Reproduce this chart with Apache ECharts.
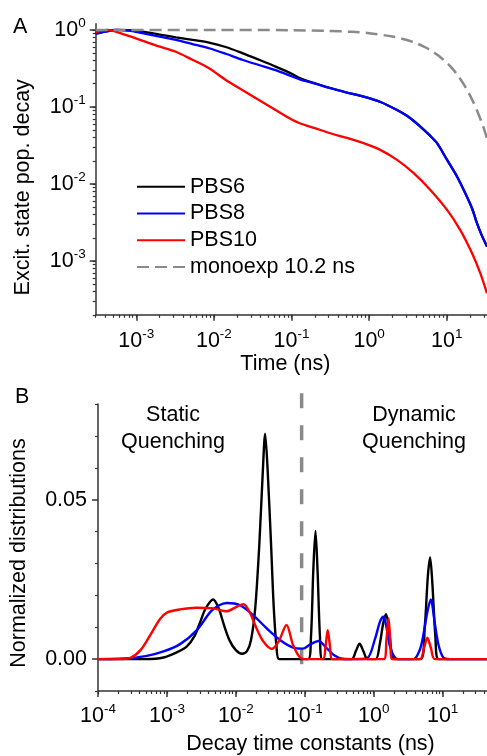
<!DOCTYPE html>
<html><head><meta charset="utf-8">
<script src="https://cdn.jsdelivr.net/npm/echarts@6/dist/echarts.min.js"></script>
<style>html,body{margin:0;padding:0;background:#fff}#c{width:487px;height:756px}</style>
</head><body><div id="c"></div>
<script>
// ---------- Panel A: excited state population decay ----------
const timeA = [3e-4, 4e-4, 5.5e-4, 8e-4, 1.19e-3, 2e-3, 3.24e-3, 5.3e-3, 8.65e-3, 0.0142, 0.0232, 0.038, 0.0624, 0.102, 0.13, 0.2, 0.316, 0.5, 0.85, 1.4, 2.29, 3.3, 4.57, 6, 7.5, 10.1, 13.6, 17.4, 21.2, 24.5, 28, 33];
const decayPBS6 = [0.90, 0.95, 1.0, 0.99, 0.95, 0.87, 0.80, 0.74, 0.685, 0.60, 0.50, 0.41, 0.334, 0.268, 0.235, 0.203, 0.176, 0.155, 0.136, 0.116, 0.091, 0.073, 0.0556, 0.043, 0.0338, 0.0205, 0.0124, 0.0075, 0.0048, 0.0031, 0.0022, 0.00154];
const decayPBS8 = [0.89, 0.95, 1.0, 0.98, 0.91, 0.82, 0.74, 0.655, 0.578, 0.49, 0.41, 0.35, 0.30, 0.248, 0.226, 0.201, 0.175, 0.155, 0.136, 0.116, 0.091, 0.073, 0.0556, 0.043, 0.0338, 0.0205, 0.0124, 0.0075, 0.0048, 0.0031, 0.0022, 0.00154];
const timeA10 = [3e-4, 4.2e-4, 7.3e-4, 1.19e-3, 1.96e-3, 3.24e-3, 5.27e-3, 8.65e-3, 0.0142, 0.0232, 0.038, 0.0624, 0.102, 0.13, 0.2, 0.316, 0.5, 0.85, 1.39, 2.29, 3.75, 6.15, 10.1, 15, 21.2, 27.1, 33];
const decayPBS10 = [0.93, 1.0, 0.86, 0.726, 0.61, 0.52, 0.41, 0.318, 0.224, 0.166, 0.123, 0.091, 0.068, 0.061, 0.053, 0.0455, 0.040, 0.0338, 0.0277, 0.0205, 0.0138, 0.00836, 0.0046, 0.0025, 0.00126, 0.00069, 0.00038];
const timeMono = [3e-4, 0.01, 0.1, 0.3, 0.6, 1, 2, 3, 4, 5, 6, 7, 8, 10, 12, 14, 16, 18, 20, 22, 25, 28, 30, 33];
const decayMono = [1.0, 1.0, 0.99, 0.97, 0.943, 0.906, 0.82, 0.745, 0.675, 0.61, 0.555, 0.50, 0.456, 0.375, 0.31, 0.254, 0.208, 0.17, 0.14, 0.115, 0.086, 0.064, 0.053, 0.039];
const xTickExpA = [-3, -2, -1, 0, 1];
const yTickExpA = [-3, -2, -1, 0];

// ---------- Panel B: decay time constant distributions ----------
const tauPBS6 = [1e-4, 5.01e-4, 8.91e-4, 1.41e-3, 1.95e-3, 2.51e-3, 3.02e-3, 3.63e-3, 4.68e-3, 5.62e-3, 6.76e-3, 8.13e-3, 0.01, 0.0123, 0.0145, 0.0166, 0.0191, 0.0219, 0.0245, 0.0266, 0.0288, 0.0324, 0.0355, 0.0389, 0.0427, 0.112, 0.123, 0.133, 0.143, 0.153, 0.166, 0.18, 0.479, 0.55, 0.624, 0.708, 0.813, 1.07, 1.23, 1.38, 1.51, 1.66, 1.82, 2.0, 4.79, 5.5, 6.1, 6.58, 7.08, 7.85, 8.71, 44];
const distPBS6 = [0, 0, 0.0005, 0.0022, 0.004, 0.0072, 0.0115, 0.0158, 0.0187, 0.016, 0.0105, 0.0058, 0.0028, 0.0017, 0.0025, 0.006, 0.016, 0.036, 0.058, 0.0707, 0.060, 0.036, 0.016, 0.004, 0, 0, 0.007, 0.028, 0.0402, 0.028, 0.007, 0, 0, 0.0025, 0.0048, 0.0025, 0, 0, 0.005, 0.0115, 0.0141, 0.0095, 0.002, 0, 0, 0.010, 0.026, 0.0319, 0.024, 0.007, 0, 0];
const tauPBS8 = [1e-4, 2e-4, 2.95e-4, 5.13e-4, 8.91e-4, 1.55e-3, 2.72e-3, 4.27e-3, 5.62e-3, 7.41e-3, 0.0115, 0.0178, 0.0282, 0.0437, 0.0676, 0.0933, 0.12, 0.158, 0.209, 0.263, 0.355, 0.5, 0.794, 1.05, 1.23, 1.38, 1.51, 1.7, 1.95, 2.24, 3.8, 4.68, 5.25, 6.03, 6.71, 7.76, 8.71, 10.2, 12.6, 44];
const distPBS8 = [0, 0.0001, 0.0003, 0.001, 0.0024, 0.0047, 0.0091, 0.0148, 0.0168, 0.0176, 0.0169, 0.0138, 0.0096, 0.006, 0.0036, 0.0033, 0.0046, 0.0057, 0.0034, 0.0013, 0.0001, 0, 0.0002, 0.0065, 0.0117, 0.0133, 0.0107, 0.0044, 0.001, 0, 0, 0.003, 0.0076, 0.015, 0.0187, 0.0107, 0.0044, 0.0005, 0, 0];
const tauPBS10 = [1e-4, 2e-4, 2.95e-4, 4.17e-4, 5.75e-4, 7.94e-4, 1e-3, 1.55e-3, 2.69e-3, 4.79e-3, 7.41e-3, 0.0102, 0.0129, 0.0158, 0.02, 0.0251, 0.0331, 0.0417, 0.0543, 0.0676, 0.0851, 0.1, 0.182, 0.2, 0.215, 0.232, 0.251, 1.41, 1.53, 1.64, 1.74, 1.84, 4.68, 5.37, 6.0, 6.76, 7.76, 44];
const distPBS10 = [0, 0, 0.0004, 0.0029, 0.0076, 0.0126, 0.0146, 0.0156, 0.0161, 0.0159, 0.015, 0.0164, 0.0172, 0.0148, 0.0096, 0.0055, 0.0032, 0.0055, 0.0107, 0.0044, 0.0005, 0, 0, 0.004, 0.0091, 0.004, 0, 0, 0.006, 0.0128, 0.006, 0, 0, 0.0035, 0.0067, 0.0035, 0, 0];
const dividerTau = [0.09, 0.09];
const dividerY = [0.0834, -0.0065];
const xTickExpB = [-4, -3, -2, -1, 0, 1];
const yTickB = [0, 0.05];

const FONT = 'Liberation Sans, Arial, Helvetica, sans-serif';
const FS = 21.5;
const AX = '#333';
const COLORS = { PBS6: '#000000', PBS8: '#0000ff', PBS10: '#ff0000' };

const lg = Math.log10;
const toLogLog = (xs, ys) => xs.map((x, i) => [lg(x), lg(ys[i])]);
const toLogLin = (xs, ys) => xs.map((x, i) => [lg(x), ys[i]]);

function minorLog(lo, hi) {
  const out = [];
  for (let e = Math.floor(lo) - 1; e <= Math.ceil(hi); e++) {
    for (let k = 1; k <= 9; k++) {
      const v = lg(k) + e;
      if (v >= lo - 1e-9 && v <= hi + 1e-9) out.push(v);
    }
  }
  return out;
}

const rich = {
  b: { fontSize: FS, fontFamily: FONT, color: '#000', lineHeight: 28, verticalAlign: 'middle' },
  s: { fontSize: 13.5, fontFamily: FONT, color: '#000', lineHeight: 14, verticalAlign: 'top' }
};
const powFmt = v => '{b|10}{s|' + Math.round(v) + '}';

const xA = [lg(3e-4), lg(33)];
const yA = [lg(2e-4), lg(1.2)];
const xB = [-4, lg(44)];
const yB = [-0.01, 0.08];

const axLine = { show: true, onZero: false, lineStyle: { color: AX, width: 1.5 } };
const noLine = { show: false, onZero: false };

function majorAxis(grid, ext, tickVals, labVals, fmt, extra) {
  return Object.assign({
    type: 'value', gridIndex: grid, min: ext[0], max: ext[1],
    axisLine: axLine, splitLine: { show: false },
    axisTick: { show: true, inside: false, length: 6, customValues: tickVals, lineStyle: { color: AX, width: 1.5 } },
    axisLabel: { show: true, customValues: labVals, formatter: fmt, rich: rich, fontFamily: FONT, fontSize: FS, color: '#000' }
  }, extra);
}
function minorAxis(grid, ext, tickVals, extra) {
  return Object.assign({
    type: 'value', gridIndex: grid, min: ext[0], max: ext[1],
    axisLine: noLine, splitLine: { show: false },
    axisTick: { show: true, inside: false, length: 3, customValues: tickVals, lineStyle: { color: AX, width: 1.2 } },
    axisLabel: { show: false }
  }, extra);
}

const nameStyle = (pad) => ({ fontFamily: FONT, fontSize: FS, color: '#000', padding: pad });

const option = {
  animation: false,
  backgroundColor: '#fff',
  textStyle: { fontFamily: FONT },
  grid: [
    { left: 95.7, top: 23.8, width: 391.3, height: 291, containLabel: false },
    { left: 96.7, top: 404, width: 390.3, height: 289.3, containLabel: false }
  ],
  xAxis: [
    majorAxis(0, xA, xTickExpA, xTickExpA, powFmt, {
      position: 'bottom', name: 'Time (ns)', nameLocation: 'middle', nameGap: 36,
      nameTextStyle: nameStyle([0, 12, 0, 0]),
      axisLabel: { show: true, customValues: xTickExpA, formatter: powFmt, rich: rich, margin: 12, fontSize: FS, fontFamily: FONT }
    }),
    minorAxis(0, xA, minorLog(xA[0], xA[1]), { position: 'bottom' }),
    majorAxis(1, xB, xTickExpB, xTickExpB, powFmt, {
      position: 'bottom', name: 'Decay time constants (ns)', nameLocation: 'middle', nameGap: 42,
      nameTextStyle: nameStyle([0, 0, 0, 36]),
      axisLabel: { show: true, customValues: xTickExpB, formatter: powFmt, rich: rich, margin: 11, fontSize: FS, fontFamily: FONT }
    }),
    minorAxis(1, xB, minorLog(xB[0], xB[1]), { position: 'bottom' })
  ],
  yAxis: [
    majorAxis(0, yA, yTickExpA, yTickExpA, powFmt, {
      position: 'left', name: 'Excit. state pop. decay', nameLocation: 'middle', nameGap: 62,
      nameTextStyle: nameStyle([0, 36, 0, 0]),
      axisLabel: { show: true, customValues: yTickExpA, formatter: powFmt, rich: rich, margin: 10, fontSize: FS, fontFamily: FONT }
    }),
    minorAxis(0, yA, minorLog(yA[0], yA[1]), { position: 'left' }),
    majorAxis(1, yB, yTickB, yTickB, v => v.toFixed(2), {
      position: 'left', name: 'Normalized distributions', nameLocation: 'middle', nameGap: 68,
      nameTextStyle: nameStyle([0, 11, 0, 0]),
      axisLabel: { show: true, customValues: yTickB, formatter: v => v.toFixed(2), margin: 11, fontSize: FS, fontFamily: FONT, color: '#000' }
    }),
    minorAxis(1, yB, [-0.01, 0.01, 0.02, 0.03, 0.04, 0.06, 0.07, 0.08], { position: 'left' })
  ],
  legend: {
    data: ['PBS6', 'PBS8', 'PBS10', 'monoexp 10.2 ns'],
    orient: 'vertical', left: 136, top: 175.7, padding: 0,
    itemWidth: 48, itemHeight: 14, itemGap: 4.8,
    itemStyle: { opacity: 0 },
    textStyle: { fontFamily: FONT, fontSize: FS, color: '#000', lineHeight: 22, padding: [0, 0, 0, 0] },
    selectedMode: false
  },
  graphic: [
    { type: 'text', left: 13, top: 16, style: { text: 'A', font: FS + 'px ' + FONT, fill: '#000' } },
    { type: 'text', left: 15, top: 386, style: { text: 'B', font: FS + 'px ' + FONT, fill: '#000' } },
    { type: 'text', x: 173, y: 402, style: { text: 'Static\nQuenching', font: FS + 'px ' + FONT, fill: '#000', align: 'center', verticalAlign: 'top', lineHeight: 27 } },
    { type: 'text', x: 414, y: 402, style: { text: 'Dynamic\nQuenching', font: FS + 'px ' + FONT, fill: '#000', align: 'center', verticalAlign: 'top', lineHeight: 27 } }
  ],
  series: [
    { name: 'PBS6', type: 'line', xAxisIndex: 0, yAxisIndex: 0, data: toLogLog(timeA, decayPBS6), symbol: 'none', smooth: 0.3, lineStyle: { color: COLORS.PBS6, width: 2.3 }, itemStyle: { color: COLORS.PBS6 } },
    { name: 'PBS8', type: 'line', xAxisIndex: 0, yAxisIndex: 0, data: toLogLog(timeA, decayPBS8), symbol: 'none', smooth: 0.3, lineStyle: { color: COLORS.PBS8, width: 2.3 }, itemStyle: { color: COLORS.PBS8 } },
    { name: 'PBS10', type: 'line', xAxisIndex: 0, yAxisIndex: 0, data: toLogLog(timeA10, decayPBS10), symbol: 'none', smooth: 0.3, lineStyle: { color: COLORS.PBS10, width: 2.3 }, itemStyle: { color: COLORS.PBS10 } },
    { name: 'monoexp 10.2 ns', type: 'line', xAxisIndex: 0, yAxisIndex: 0, data: toLogLog(timeMono, decayMono), symbol: 'none', smooth: 0.3, lineStyle: { color: '#8a8a8a', width: 2.5, type: [12, 6] }, itemStyle: { color: '#8a8a8a' } },

    { name: 'divider', type: 'line', xAxisIndex: 2, yAxisIndex: 2, data: toLogLin(dividerTau, dividerY), symbol: 'none', clip: false, lineStyle: { color: '#8a8a8a', width: 3.5, type: [15, 17] }, z: 1 },
    { name: 'PBS6', type: 'line', xAxisIndex: 2, yAxisIndex: 2, data: toLogLin(tauPBS6, distPBS6), symbol: 'none', smooth: 0.3, lineStyle: { color: COLORS.PBS6, width: 2.4 }, itemStyle: { color: COLORS.PBS6 } },
    { name: 'PBS8', type: 'line', xAxisIndex: 2, yAxisIndex: 2, data: toLogLin(tauPBS8, distPBS8), symbol: 'none', smooth: 0.3, lineStyle: { color: COLORS.PBS8, width: 2.4 }, itemStyle: { color: COLORS.PBS8 } },
    { name: 'PBS10', type: 'line', xAxisIndex: 2, yAxisIndex: 2, data: toLogLin(tauPBS10, distPBS10), symbol: 'none', smooth: 0.3, lineStyle: { color: COLORS.PBS10, width: 2.4 }, itemStyle: { color: COLORS.PBS10 } }
  ]
};

const chart = echarts.init(document.getElementById('c'), null, { renderer: 'canvas' });
chart.setOption(option);
</script>
</body></html>
